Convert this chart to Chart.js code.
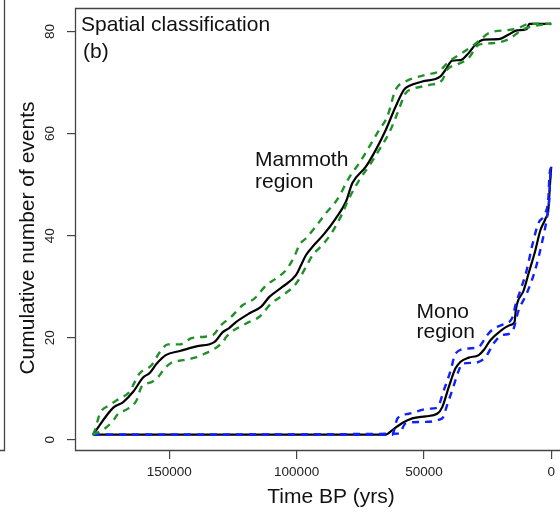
<!DOCTYPE html>
<html>
<head>
<meta charset="utf-8">
<script src="https://cdn.jsdelivr.net/npm/chart.js@4/dist/chart.umd.min.js"></script>
<style>
html,body{margin:0;padding:0;background:#fff;overflow:hidden;}
canvas{display:block;}
</style>
</head>
<body>
<canvas id="c" width="560" height="514"></canvas>
<script>
// ---- Data (years BP, cumulative number of events) ----
const xTickValues = [150000, 100000, 50000, 0];
const yTickValues = [0, 20, 40, 60, 80];

const mammothMidX = [180000,172000,168100,164200,160300,157700,155000,151400,145900,139400,132200,129000,126500,123700,118500,113900,110700,105500,100200,98300,96300,93100,89100,84600,80600,78100,72800,68900,65000,61100,57800,55900,50700,43500,41500,38900,35600,32400,29800,26500,20600,16700,13500,9600,8600,0];
const mammothMidY = [1,6.3,7.4,9.4,12.2,13.1,14.9,16.6,17.4,18.3,19.2,21.1,21.9,23.1,24.8,26.1,28.0,30.0,32.3,34.2,36.2,38.2,40.4,43.4,46.7,50.3,53.5,56.8,60.7,65.3,68.6,69.3,70.2,71.2,72.5,74.3,74.4,75.8,77.4,78.4,78.5,79.4,80.2,80.5,81.5,81.5];

const mammothUpX = [180000,179200,177300,173400,169500,165600,163600,161700,157000,153700,150500,145900,141300,136000,132900,129600,125700,121100,116500,111900,108100,104100,100900,98900,96300,93100,88500,84600,82600,80600,78700,75400,72200,67600,64400,61100,57200,49300,44100,40200,35000,31100,27800,24500,16700,12800,8600,0];
const mammothUpY = [1,1.9,5.1,6.8,8.1,9.4,11.3,13.0,14.6,17.2,18.7,18.7,19.9,20.2,20.5,22.5,24.1,26.4,27.7,30.3,31.6,33.3,35.9,38.2,39.5,41.4,44.4,46.7,48.3,50.3,51.9,54.2,56.8,60.7,63.3,68.6,70.2,71.5,72.2,74.1,75.8,77.1,78.4,79.7,80.3,80.7,81.5,81.5];

const mammothLowX = [180000,175300,172000,170100,166200,162900,160900,157000,154400,151800,149200,144600,140000,136000,131500,128900,127600,119800,114600,110000,105500,100200,96300,93700,89800,85900,82000,80000,75400,70800,67600,63700,60400,57200,54600,48000,42800,40900,37000,32400,28500,23300,16700,11500,7600,0];
const mammothLowY = [1,2.2,3.8,5.1,6.1,7.7,10.4,11.3,12.3,14.0,15.1,15.6,16.1,16.9,18.1,19.2,20.2,22.8,24.1,26.7,28.3,30.6,33.9,36.2,38.2,40.8,44.4,46.7,50.9,54.2,56.8,60.1,64.0,67.9,68.7,69.5,70.5,72.5,73.5,74.8,77.4,77.7,78.5,80.3,81.0,81.5];

const monoMidX = [180000,65100,62400,58500,54600,49300,44800,42800,40200,37600,35600,32400,28500,26500,23900,20000,16100,14400,13900,10800,8900,6300,4300,2300,1100,500,0];
const monoMidY = [1,1,1.9,3.3,4.2,4.6,5.1,6.4,10.4,14.0,15.3,16.1,16.6,17.6,19.5,21.3,22.5,23.1,25.5,29.3,32.6,37.0,41.0,43.3,45.3,50.0,53.5];

const monoUpX = [180000,62400,61700,60400,55900,48000,44800,42200,39500,37600,32400,28500,25200,22600,19300,15400,13900,12100,9600,7600,5000,2300,1100,700,0];
const monoUpY = [1,1,1.9,4.2,5.1,6.1,6.3,9.7,13.6,16.9,17.9,18.2,20.5,21.8,22.5,23.8,26.7,29.3,33.3,37.8,42.5,44.4,47.6,51.9,53.5];

const monoLowX = [180000,59800,57200,50700,42800,40900,38900,36300,35000,29800,25800,22600,19300,15400,12800,9600,6300,3700,1700,800,400,0];
const monoLowY = [1,1.2,3.2,3.5,4.2,6.8,9.7,13.6,14.9,15.1,16.2,18.9,20.5,21.1,25.4,28.7,33.3,38.5,43.5,47.0,51.6,53.5];

const pts = (xs, ys) => xs.map((x, i) => ({x: x, y: ys[i]}));

const FONT = "'Liberation Sans', Arial, Helvetica, sans-serif";
const GREEN = '#22902a';
const BLUE = '#1020ff';

function lineDs(data, color, dashed, order) {
  return {
    data: data,
    borderColor: color,
    borderWidth: dashed ? 2.4 : 2.2,
    borderDash: dashed ? [7, 6] : [],
    pointRadius: 0,
    fill: false,
    cubicInterpolationMode: 'monotone',
    order: order
  };
}

const decor = {
  id: 'decor',
  afterDraw(chart) {
    const ctx = chart.ctx;
    const a = chart.chartArea;
    ctx.save();
    // plot box (left, top, bottom)
    ctx.strokeStyle = '#444';
    ctx.lineWidth = 1.3;
    ctx.beginPath();
    ctx.moveTo(chart.width + 5, Math.round(a.top) + 0.5);
    ctx.lineTo(Math.round(a.left) + 0.5, Math.round(a.top) + 0.5);
    ctx.lineTo(Math.round(a.left) + 0.5, Math.round(a.bottom) + 0.5);
    ctx.lineTo(chart.width + 5, Math.round(a.bottom) + 0.5);
    ctx.stroke();
    // edge of neighbouring panel
    ctx.beginPath();
    ctx.moveTo(4.5, 0);
    ctx.lineTo(4.5, Math.round(a.bottom) + 0.5);
    ctx.lineTo(0, Math.round(a.bottom) + 0.5);
    ctx.stroke();

    // rotated y tick labels
    const ys = chart.scales.y;
    ctx.fillStyle = '#222';
    ctx.font = '13.5px ' + FONT;
    ctx.textAlign = 'center';
    ctx.textBaseline = 'middle';
    ys.ticks.forEach(t => {
      const py = ys.getPixelForValue(t.value);
      ctx.save();
      ctx.translate(50, py);
      ctx.rotate(-Math.PI / 2);
      ctx.fillText(String(t.value), 0, 0);
      ctx.restore();
    });

    // axis titles
    ctx.fillStyle = '#111';
    ctx.font = '21px ' + FONT;
    ctx.textAlign = 'center';
    ctx.textBaseline = 'middle';
    ctx.fillText('Time BP (yrs)', 331, 497);
    ctx.save();
    ctx.translate(28, 238);
    ctx.rotate(-Math.PI / 2);
    ctx.fillText('Cumulative number of events', 0, 0);
    ctx.restore();

    // annotations
    ctx.textAlign = 'left';
    ctx.textBaseline = 'alphabetic';
    ctx.fillText('Spatial classification', 81, 31);
    ctx.fillText('(b)', 83, 58);
    ctx.fillText('Mammoth', 255, 166);
    ctx.fillText('region', 255, 187.5);
    ctx.fillText('Mono', 416.5, 317.5);
    ctx.fillText('region', 416.5, 338);
    ctx.restore();
  }
};

new Chart(document.getElementById('c'), {
  type: 'line',
  data: {
    datasets: [
      lineDs(pts(mammothUpX, mammothUpY), GREEN, true, 0),
      lineDs(pts(mammothLowX, mammothLowY), GREEN, true, 0),
      lineDs(pts(monoUpX, monoUpY), BLUE, true, 0),
      lineDs(pts(monoLowX, monoLowY), BLUE, true, 0),
      lineDs(pts(mammothMidX, mammothMidY), '#000', false, 1),
      lineDs(pts(monoMidX, monoMidY), '#000', false, 1)
    ]
  },
  options: {
    responsive: false,
    animation: false,
    devicePixelRatio: 1,
    layout: { padding: { top: 8, left: 0, right: 0, bottom: 0 } },
    plugins: { legend: { display: false }, tooltip: { enabled: false }, title: { display: false } },
    scales: {
      x: {
        type: 'linear',
        reverse: true,
        min: -2860,
        max: 187040,
        afterBuildTicks: s => { s.ticks = xTickValues.map(v => ({value: v})); },
        afterFit: s => { s.height = 64; },
        grid: { drawOnChartArea: false, drawTicks: true, tickLength: 9, color: '#444', lineWidth: 1.2 },
        border: { display: false },
        ticks: { color: '#222', font: { family: FONT, size: 13.5 }, padding: 5, maxRotation: 0, autoSkip: false,
                 callback: v => String(v) }
      },
      y: {
        type: 'linear',
        min: -2,
        max: 84.6,
        afterBuildTicks: s => { s.ticks = yTickValues.map(v => ({value: v})); },
        afterFit: s => { s.width = 75; },
        grid: { drawOnChartArea: false, drawTicks: true, tickLength: 8, color: '#444', lineWidth: 1.2 },
        border: { display: false },
        ticks: { display: false }
      }
    }
  },
  plugins: [decor]
});
</script>
</body>
</html>
